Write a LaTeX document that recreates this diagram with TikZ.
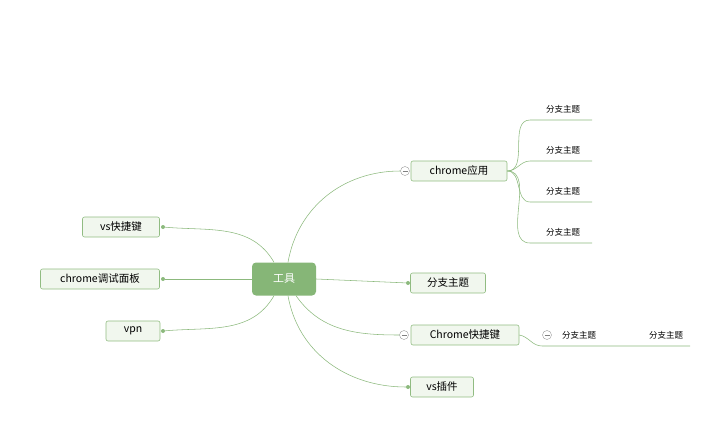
\documentclass[tikz,border=0pt]{standalone}
\usepackage{fontspec}
\setmainfont{Noto Sans CJK SC}
\definecolor{rootgreen}{RGB}{134,182,119}
\definecolor{boxfill}{RGB}{241,247,238}
\definecolor{boxline}{RGB}{145,188,130}
\definecolor{linkgreen}{RGB}{140,185,125}
\begin{document}
\begin{tikzpicture}
[x=1pt,y=-1pt,
 rootnode/.style={rectangle,rounded corners=4pt,fill=rootgreen,text=white,inner sep=0pt,minimum width=64pt,minimum height=33pt,font=\fontsize{11}{13}\selectfont},
 mynode/.style={rectangle,rounded corners=2pt,draw=boxline,fill=boxfill,line width=0.6pt,inner sep=0pt,minimum height=20pt,font=\fontsize{10.5}{12}\selectfont},
 subnode/.style={inner sep=0pt,font=\fontsize{8.5}{10}\selectfont},
 link/.style={draw=linkgreen,line width=0.55pt},
 knob/.style={circle,fill=linkgreen,inner sep=0pt,minimum size=4pt},
 fold/.style={circle,draw=gray!80,fill=white,inner sep=0pt,minimum size=9pt,
   path picture={\draw[gray] ([xshift=-2.5pt]path picture bounding box.center) -- ([xshift=2.5pt]path picture bounding box.center);}}]

\useasboundingbox (0,0) rectangle (718,436);

\node (root) at (284,279) [rootnode] {工具};

\node (app)   at (459,171) [mynode,minimum width=96pt]  {chrome应用};
\node (topic) at (448,283) [mynode,minimum width=75pt]  {分支主题};
\node (key)   at (465,335) [mynode,minimum width=108pt] {Chrome快捷键};
\node (plug)  at (442,387) [mynode,minimum width=63pt]  {vs插件};

\node (vs)  at (121,227) [mynode,minimum width=77pt]  {vs快捷键};
\node (dbg) at (100,279) [mynode,minimum width=119pt] {chrome调试面板};
\node (vpn) at (133,331) [mynode,minimum width=54pt]  {vpn};

\node (fapp) at (405,171) [fold] {};
\node (fkey) at (404,335) [fold] {};
\node (fsub) at (547,335) [fold] {};

\node (ktopic) at (408,283) [knob] {};
\node (kplug)  at (408,387) [knob] {};
\node (kvs)    at (163,227) [knob] {};
\node (kdbg)   at (163,279) [knob] {};
\node (kvpn)   at (163,331) [knob] {};

% right side
\draw[link] ([xshift=4pt]root.north) to[out=80,in=180] (fapp.west);
\draw[link] (root.east) -- (ktopic);
\draw[link] ([xshift=12pt]root.south) to[out=-55,in=180] (fkey.west);
\draw[link] ([xshift=4pt]root.south) to[out=-80,in=180] (kplug);

% left side
\draw[link] (kvs) to[out=-5,in=120] ([xshift=-10pt]root.north);
\draw[link] (kdbg) -- (root.west);
\draw[link] (kvpn) to[out=5,in=-120] ([xshift=-10pt]root.south);

% chrome应用 branches
\foreach \i/\y in {1/109,2/150,3/191,4/232} {
  \node (t\i) at (563,\y) [subnode] {分支主题};
  \coordinate (l\i) at (530,\y+11);
  \coordinate (r\i) at (592,\y+11);
  \draw[link] (app.east) to[out=0,in=180] (l\i) -- (r\i);
}

% Chrome快捷键 branch
\node (s1) at (579,335) [subnode] {分支主题};
\node (s2) at (666,335) [subnode] {分支主题};
\coordinate (kl) at (542,346);
\coordinate (kr) at (690,346);
\draw[link] (key.east) to[out=-10,in=180] (kl) -- (kr);

\end{tikzpicture}
\end{document}
